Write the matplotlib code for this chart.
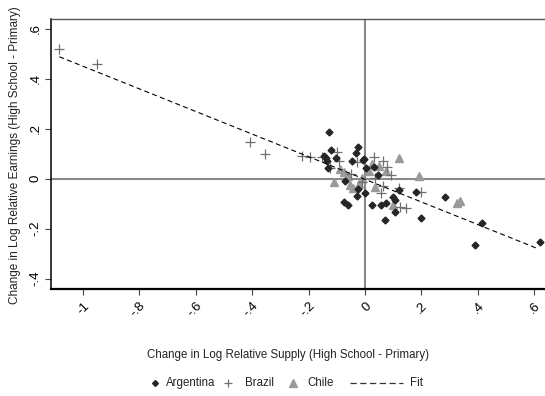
import matplotlib
matplotlib.use('Agg')
import matplotlib.pyplot as plt
from matplotlib.lines import Line2D

plt.rcParams['font.family'] = ['Liberation Sans', 'DejaVu Sans']

# change in log relative supply (x) vs earnings (y)
arg_x = [-0.128, -0.121, -0.104, -0.144, -0.139, -0.135, -0.130, -0.026, -0.031,
         -0.047, -0.006, -0.071, -0.026, -0.029, -0.076, -0.059, -0.004, 0.004,
         0.047, 0.000, 0.024, 0.056, 0.074, 0.100, 0.105, 0.119, 0.181, 0.106,
         0.070, 0.200, 0.032, 0.284, 0.415, 0.389, 0.620]
arg_y = [0.185, 0.113, 0.081, 0.091, 0.081, 0.070, 0.041, 0.126, 0.102,
         0.070, 0.075, -0.010, -0.042, -0.069, -0.093, -0.106, 0.078, 0.043,
         0.014, -0.059, -0.106, -0.106, -0.099, -0.073, -0.086, -0.047, -0.055, -0.135,
         -0.165, -0.159, 0.047, -0.073, -0.177, -0.267, -0.254]

bra_x = [-1.085, -0.950, -0.408, -0.355, -0.222, -0.195, -0.151, -0.100, -0.092,
         -0.124, -0.028, 0.030, 0.065, 0.077, 0.091, 0.063, 0.056, 0.122, 0.124,
         0.145, 0.197, -0.012, 0.035, -0.050]
bra_y = [0.518, 0.458, 0.145, 0.097, 0.091, 0.086, 0.086, 0.105, 0.070,
         0.041, 0.065, 0.087, 0.070, 0.047, 0.014, -0.029, -0.059, -0.039, -0.113,
         -0.119, -0.053, -0.013, 0.003, 0.020]

chi_x = [-0.073, -0.059, -0.109, -0.054, -0.041, -0.012, 0.122, 0.190, 0.024,
         0.074, 0.035, 0.100, 0.325, 0.335, -0.090, 0.015, -0.020, 0.050]
chi_y = [0.027, 0.011, -0.013, -0.026, -0.039, 0.001, 0.081, 0.011, 0.057,
         0.030, -0.033, -0.106, -0.097, -0.090, 0.040, 0.030, -0.020, 0.050]

fit_x = [-1.084, 0.609]
fit_y = [0.487, -0.279]

xticks = [-1, -0.8, -0.6, -0.4, -0.2, 0, 0.2, 0.4, 0.6]
xtick_labels = ['-1', '-.8', '-.6', '-.4', '-.2', '0', '.2', '.4', '.6']
yticks = [-0.4, -0.2, 0, 0.2, 0.4, 0.6]
ytick_labels = ['-.4', '-.2', '0', '.2', '.4', '.6']

fig = plt.figure(figsize=(5.45, 3.96), dpi=100)
ax = fig.add_axes([51 / 545, 1 - 289 / 396, 1 - 51 / 545, (289 - 19) / 396])

ax.axvline(0, color='#8a8a8a', lw=1.5, zorder=1)
ax.axhline(0, color='#8a8a8a', lw=1.5, zorder=1)

ax.plot(chi_x, chi_y, '^', ms=6.3, color='#9a9a9a', mec='#9a9a9a', zorder=3)
ax.plot(bra_x, bra_y, '+', ms=6.5, mew=0.9, color='#707070', zorder=4)
ax.plot(arg_x, arg_y, 'D', ms=3.5, color='#262626', zorder=5)
ax.plot(fit_x, fit_y, color='black', lw=0.8, dashes=(4.5, 3), zorder=6)

ax.set_xlim(-1.1135, 0.638)
ax.set_ylim(-0.442, 0.638)

ax.set_xticks(xticks)
ax.set_xticklabels(xtick_labels, rotation=45, ha='right', va='top',
                   rotation_mode='anchor', fontsize=9.5)
ax.set_yticks(yticks)
ax.set_yticklabels(ytick_labels, rotation=90, va='center', fontsize=9.5)
ax.tick_params(axis='both', direction='out', length=4, width=0.8, color='#444444')
ax.tick_params(axis='y', pad=3)
ax.tick_params(axis='x', pad=4)

ax.spines['right'].set_visible(False)
ax.spines['top'].set_color('#555555')
ax.spines['top'].set_linewidth(1.0)
ax.spines['left'].set_linewidth(1.1)
ax.spines['bottom'].set_linewidth(1.6)

fig.text(288 / 545, 1 - 355 / 396,
         'Change in Log Relative Supply (High School - Primary)',
         ha='center', va='center', fontsize=8.3, color='#222222')
fig.text(15 / 545, 1 - 155 / 396,
         'Change in Log Relative Earnings (High School - Primary)',
         ha='center', va='center', rotation=90, fontsize=8.5, color='#222222')

# legend drawn by hand
ly = 1 - 383 / 396
fig.add_artist(Line2D([155 / 545], [ly], marker='D', ms=3, color='#262626',
                      transform=fig.transFigure))
fig.text(166 / 545, ly, 'Argentina', ha='left', va='center', fontsize=8.3, color='#222222')
fig.add_artist(Line2D([228 / 545], [ly], marker='+', ms=6, mew=0.9, color='#707070',
                      transform=fig.transFigure))
fig.text(245 / 545, ly, 'Brazil', ha='left', va='center', fontsize=8.3, color='#222222')
fig.add_artist(Line2D([293 / 545], [ly], marker='^', ms=5.5, color='#9a9a9a',
                      transform=fig.transFigure))
fig.text(307 / 545, ly, 'Chile', ha='left', va='center', fontsize=8.3, color='#222222')
fig.add_artist(Line2D([350 / 545, 403 / 545], [ly, ly], color='#333333', lw=0.9,
                      dashes=(5, 2.8), transform=fig.transFigure))
fig.text(410 / 545, ly, 'Fit', ha='left', va='center', fontsize=8.3, color='#222222')

fig.savefig('out.png', dpi=100)
